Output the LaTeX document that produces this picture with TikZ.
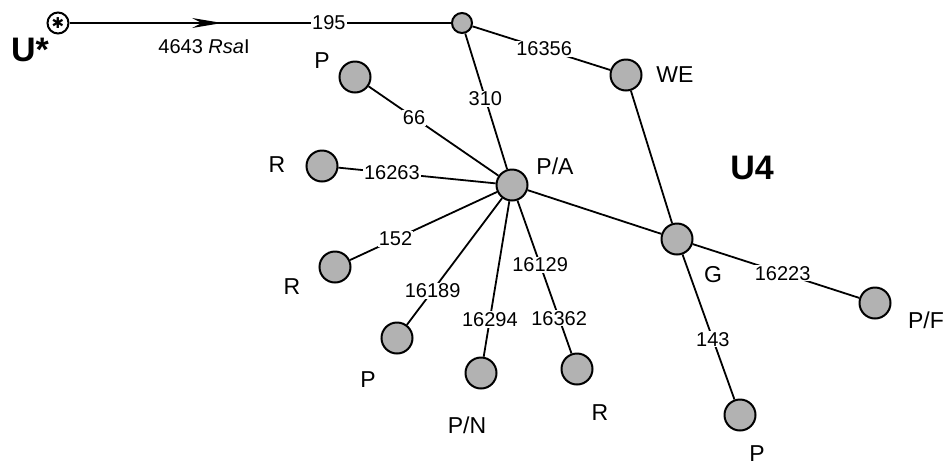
\documentclass[tikz,border=0pt]{standalone}
\usepackage{fontspec}
\setmainfont{Liberation Sans}
\newfontfamily\symfont{DejaVu Sans}
\usetikzlibrary{arrows.meta,decorations.markings}

\begin{document}
\begin{tikzpicture}[x=1pt, y=-1pt,
    line width=1.8pt,
    hap/.style={circle, draw, line width=2pt, fill=black!30,
      minimum size=31pt, inner sep=0pt},
    root/.style={circle, draw, line width=2pt, minimum size=21pt,
      inner sep=0pt, font=\symfont\fontsize{15}{15}\selectfont},
    num/.style={fill=white, inner sep=1pt,
      font=\fontsize{20}{20}\selectfont},
    tag/.style={inner sep=0pt, font=\fontsize{23}{23}\selectfont},
    clade/.style={inner sep=0pt, font=\fontsize{34}{34}\bfseries\selectfont},
  ]
  \useasboundingbox (0,0) rectangle (945,467);

  % root and median vector
  \node[root] (ustar) at (58,23) {✱};
  \node[hap, minimum size=20pt] (top) at (462,23) {};
  \node[clade] (lu) at (30,50) {U*};
  \node[clade] (lu4) at (752,168) {U4};

  % haplotypes
  \node[hap] (pa) at (512,185) {};
  \node[hap] (we) at (626,75) {};
  \node[hap] (g) at (677,239) {};
  \node[hap] (p1) at (355,77) {};
  \node[hap] (r1) at (322,166) {};
  \node[hap] (r2) at (335,267) {};
  \node[hap] (p2) at (397,338) {};
  \node[hap] (pn) at (481,373) {};
  \node[hap] (r3) at (577,369) {};
  \node[hap] (pf) at (875,303) {};
  \node[hap] (p3) at (740,415) {};

  % population tags
  \node[tag] (tpa) at (555,166) {P/A};
  \node[tag] (twe) at (675,75) {WE};
  \node[tag] (tg) at (713,275) {G};
  \node[tag] (tp1) at (322,61) {P};
  \node[tag] (tr1) at (277,165) {R};
  \node[tag] (tr2) at (292,287) {R};
  \node[tag] (tp2) at (368,380) {P};
  \node[tag] (tpn) at (467,425) {P/N};
  \node[tag] (tr3) at (600,413) {R};
  \node[tag] (tpf) at (926,320) {P/F};
  \node[tag] (tp3) at (757,454) {P};

  % links
  \draw[postaction={decorate}, decoration={markings,
      mark=at position 0.40 with {\arrow{Stealth[length=30pt, width=10pt]}}}]
    (ustar) -- node[num, pos=0.68] {195} (top);
  \node[num] (rsa) at (204,47) {4643 \textit{Rsa}I};
  \draw (top) -- node[num, pos=0.52] {16356} (we);
  \draw (top) -- node[num, pos=0.48] {310} (pa);
  \draw (pa) -- node[num, pos=0.65] {66} (p1);
  \draw (pa) -- node[num, pos=0.66] {16263} (r1);
  \draw (pa) -- node[num, pos=0.69] {152} (r2);
  \draw (pa) -- node[num, pos=0.73] {16189} (p2);
  \draw (pa) -- node[num, pos=0.76] {16294} (pn);
  \draw (pa) -- node[num, pos=0.42] {16129} node[num, pos=0.77] {16362} (r3);
  \draw (pa) -- (g);
  \draw (we) -- (g);
  \draw (g) -- node[num, pos=0.54] {16223} (pf);
  \draw (g) -- node[num, pos=0.585] {143} (p3);
\end{tikzpicture}
\end{document}
